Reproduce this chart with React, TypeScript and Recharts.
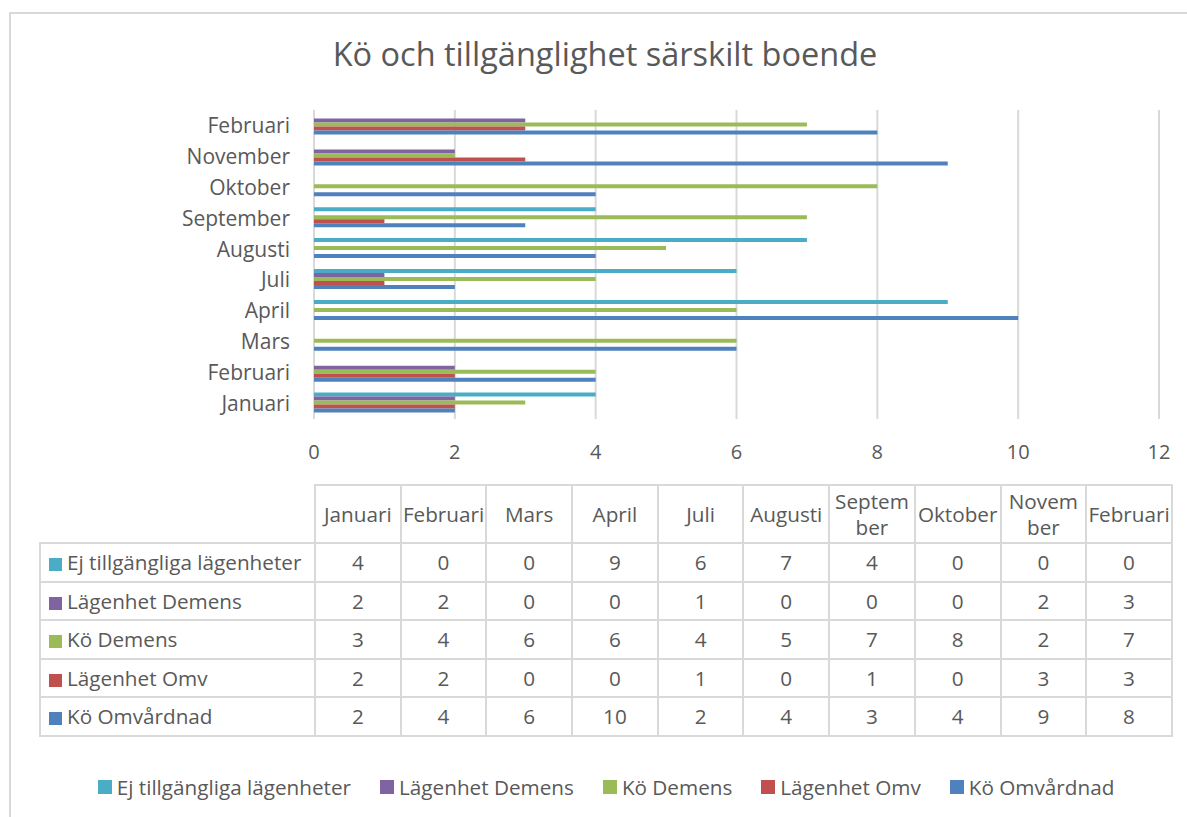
import { BarChart, Bar, XAxis, YAxis, CartesianGrid } from "recharts";

const MONTHS = ["Januari", "Februari", "Mars", "April", "Juli", "Augusti", "September", "Oktober", "November", "Februari"];
// header labels of the data table, wrapped like in the original
const TABLE_HEADERS = ["Januari", "Februari", "Mars", "April", "Juli", "Augusti", "Septem\nber", "Oktober", "Novem\nber", "Februari"];

const EJ_TILLG = [4, 0, 0, 9, 6, 7, 4, 0, 0, 0];
const LGH_DEMENS = [2, 2, 0, 0, 1, 0, 0, 0, 2, 3];
const KO_DEMENS = [3, 4, 6, 6, 4, 5, 7, 8, 2, 7];
const LGH_OMV = [2, 2, 0, 0, 1, 0, 1, 0, 3, 3];
const KO_OMV = [2, 4, 6, 10, 2, 4, 3, 4, 9, 8];

const X_TICKS = [0, 2, 4, 6, 8, 10, 12];

const SERIES = [
  { key: "ej", name: "Ej tillgängliga lägenheter", color: "#4BACC6", values: EJ_TILLG },
  { key: "lghDem", name: "Lägenhet Demens", color: "#8064A2", values: LGH_DEMENS },
  { key: "koDem", name: "Kö Demens", color: "#9BBB59", values: KO_DEMENS },
  { key: "lghOmv", name: "Lägenhet Omv", color: "#C0504D", values: LGH_OMV },
  { key: "koOmv", name: "Kö Omvårdnad", color: "#4F81BD", values: KO_OMV },
];

const TEXT = "#595959";
const GRID = "#D9D9D9";
const FONT = '"Open Sans", sans-serif';

// first month at the bottom of the chart, so reverse for the vertical layout
const data = MONTHS.map((m, i) => {
  const row: Record<string, string | number> = { id: String(i), month: m };
  SERIES.forEach((s) => (row[s.key] = s.values[i]));
  return row;
}).reverse();

const cellBorder = `2px solid ${GRID}`;

function DataTable() {
  return (
    <table
      style={{
        position: "absolute",
        left: 39,
        top: 484,
        width: 1132,
        borderCollapse: "collapse",
        tableLayout: "fixed",
        fontFamily: FONT,
        fontSize: 20.7,
        color: TEXT,
      }}
    >
      <colgroup>
        <col style={{ width: 275 }} />
        {MONTHS.map((_, i) => (
          <col key={i} style={{ width: 85.7 }} />
        ))}
      </colgroup>
      <thead>
        <tr style={{ height: 58 }}>
          <th style={{ border: "none" }} />
          {TABLE_HEADERS.map((h, i) => (
            <th
              key={i}
              style={{
                border: cellBorder,
                fontWeight: 400,
                whiteSpace: "pre",
                lineHeight: "26px",
                padding: 0,
                overflow: "visible",
              }}
            >
              {h}
            </th>
          ))}
        </tr>
      </thead>
      <tbody>
        {SERIES.map((s) => (
          <tr key={s.key} style={{ height: 38.5 }}>
            <td style={{ border: cellBorder, padding: "0 0 0 8px", whiteSpace: "nowrap" }}>
              <span
                style={{
                  display: "inline-block",
                  width: 13,
                  height: 13,
                  background: s.color,
                  marginRight: 5,
                  verticalAlign: "-1px",
                }}
              />
              {s.name}
            </td>
            {s.values.map((v, i) => (
              <td key={i} style={{ border: cellBorder, textAlign: "center", padding: 0 }}>
                {v}
              </td>
            ))}
          </tr>
        ))}
      </tbody>
    </table>
  );
}

function BottomLegend() {
  return (
    <div
      style={{
        position: "absolute",
        left: 6,
        width: 1200,
        top: 773,
        display: "flex",
        justifyContent: "center",
        gap: 29,
        fontFamily: FONT,
        fontSize: 20.7,
        color: TEXT,
        whiteSpace: "nowrap",
      }}
    >
      {SERIES.map((s) => (
        <div key={s.key} style={{ display: "flex", alignItems: "center" }}>
          <span style={{ width: 14, height: 14, background: s.color, marginRight: 5 }} />
          {s.name}
        </div>
      ))}
    </div>
  );
}

export default function App() {
  return (
    <div
      style={{
        position: "absolute",
        left: 0,
        top: 0,
        width: 1187,
        height: 817,
        background: "#fff",
        overflow: "hidden",
      }}
    >
      <div
        style={{
          position: "absolute",
          left: 9,
          top: 12,
          width: 1200,
          height: 820,
          borderLeft: cellBorder,
          borderTop: cellBorder,
        }}
      />
      <div
        style={{
          position: "absolute",
          left: 10,
          width: 1190,
          top: 31,
          textAlign: "center",
          fontFamily: FONT,
          fontSize: 32.5,
          color: TEXT,
          whiteSpace: "nowrap",
        }}
      >
        Kö och tillgänglighet särskilt boende
      </div>

      <div style={{ position: "absolute", left: 0, top: 0 }}>
        <BarChart
          width={1187}
          height={480}
          data={data}
          layout="vertical"
          margin={{ top: 110, right: 28, bottom: 0, left: 0 }}
          barCategoryGap={4.5}
          barGap={0}
        >
          <CartesianGrid horizontal={false} stroke={GRID} strokeWidth={2} />
          <XAxis
            type="number"
            domain={[0, 12]}
            ticks={X_TICKS}
            axisLine={false}
            tickLine={false}
            tickSize={0}
            tickMargin={26}
            height={61}
            tick={{ fill: TEXT, fontSize: 20, fontFamily: FONT }}
          />
          <YAxis
            type="category"
            dataKey="id"
            width={314}
            interval={0}
            axisLine={false}
            tickLine={false}
            tickSize={0}
            tickMargin={24}
            tickFormatter={(v) => MONTHS[Number(v)]}
            tick={{ fill: TEXT, fontSize: 21, fontFamily: FONT }}
          />
          {SERIES.map((s) => (
            <Bar key={s.key} dataKey={s.key} name={s.name} fill={s.color} isAnimationActive={false} />
          ))}
        </BarChart>
      </div>

      <DataTable />
      <BottomLegend />
    </div>
  );
}
